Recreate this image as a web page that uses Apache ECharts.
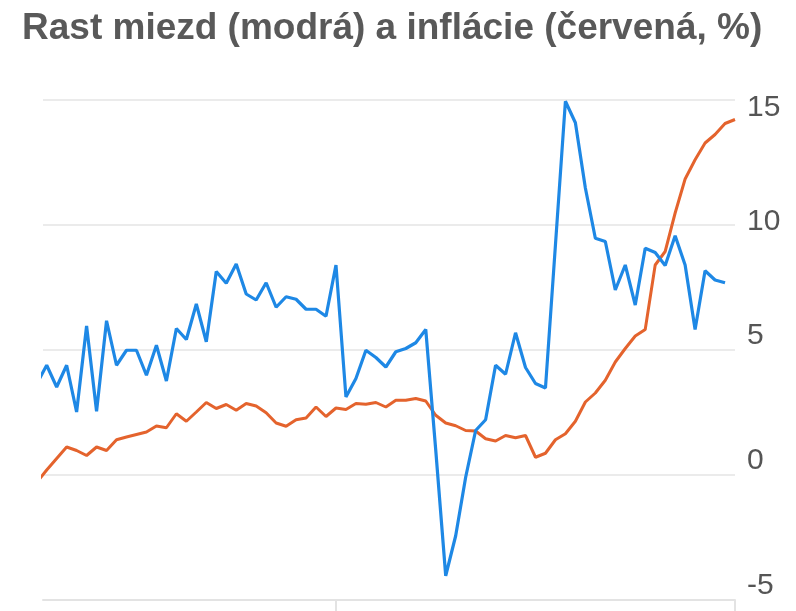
<!DOCTYPE html>
<html>
<head>
<meta charset="utf-8">
<script src="https://cdn.jsdelivr.net/npm/echarts@6/dist/echarts.min.js"></script>
<style>
  html, body { margin: 0; padding: 0; background: #fff; }
  #chart { width: 796px; height: 611px; }
</style>
</head>
<body>
<div id="chart"></div>
<script>
// mesacne hodnoty, prvy bod je uz mimo vyrezu grafu (x = -1)
var wageGrowth = [3.65, 4.39, 3.52, 4.39, 2.52, 5.96, 2.55, 6.17, 4.39, 4.99,
    4.99, 3.99, 5.19, 3.76, 5.86, 5.42, 6.84, 5.33, 8.14, 7.67,
    8.44, 7.24, 7.00, 7.69, 6.71, 7.13, 7.03, 6.63, 6.63, 6.35,
    8.40, 3.12, 3.86, 4.99, 4.70, 4.32, 4.93, 5.06, 5.29, 5.82,
    1.00, -4.03, -2.43, -0.09, 1.78, 2.21, 4.39, 4.03, 5.69, 4.30,
    3.66, 3.48, 9.20, 14.95, 14.09, 11.48, 9.47, 9.34, 7.40, 8.40,
    6.80, 9.07, 8.90, 8.38, 9.57, 8.40, 5.82, 8.17, 7.80, 7.69];
var inflation = [-0.30, 0.20, 0.66, 1.12, 0.98, 0.78, 1.12, 0.98, 1.41, 1.52,
    1.62, 1.72, 1.96, 1.89, 2.45, 2.15, 2.52, 2.90, 2.66, 2.82,
    2.59, 2.86, 2.76, 2.49, 2.08, 1.95, 2.21, 2.28, 2.72, 2.34,
    2.68, 2.62, 2.86, 2.83, 2.90, 2.72, 2.99, 2.99, 3.06, 2.96,
    2.39, 2.08, 1.97, 1.78, 1.76, 1.45, 1.36, 1.58, 1.49, 1.58,
    0.71, 0.87, 1.41, 1.65, 2.15, 2.92, 3.28, 3.79, 4.52, 5.06,
    5.56, 5.82, 8.40, 8.94, 10.48, 11.84, 12.61, 13.28, 13.62, 14.06,
    14.22];
var xTicks = [29, 69];
var yTicks = [-5, 0, 5, 10, 15];

var myChart = echarts.init(document.getElementById('chart'));

function toPoints(arr) {
    return arr.map(function (v, i) { return [i - 1, v]; });
}

var labelFont = { fontSize: 30, color: '#555', fontFamily: 'Liberation Sans' };

var option = {
    backgroundColor: '#fff',
    animation: false,
    title: {
        text: 'Rast miezd (modrá) a inflácie (červená, %)',
        left: 17,
        top: 5,
        textStyle: {
            fontFamily: 'Liberation Sans',
            fontSize: 37,
            fontWeight: 'bold',
            color: '#595959'
        }
    },
    grid: {
        left: 43,
        right: 61,
        top: 100,
        bottom: 11
    },
    xAxis: {
        type: 'value',
        min: -0.37,
        max: 69,
        splitLine: { show: false },
        axisLine: {
            onZero: false,
            lineStyle: { color: '#e3e3e3', width: 2 }
        },
        axisTick: {
            customValues: xTicks,
            length: 12,
            lineStyle: { color: '#e3e3e3', width: 2 }
        },
        axisLabel: { show: false }
    },
    yAxis: {
        type: 'value',
        position: 'right',
        min: yTicks[0],
        max: yTicks[yTicks.length - 1],
        interval: 5,
        axisLine: { show: false },
        axisTick: { show: false },
        splitLine: {
            lineStyle: { color: '#ebebeb', width: 2 }
        },
        axisLabel: {
            margin: 12,
            fontFamily: 'Liberation Sans',
            fontSize: 30,
            color: '#555',
            formatter: function (v) {
                if (v === 15) return '{t|' + v + '}';
                if (v === 10) return '{m|' + v + '}';
                return '{b|' + v + '}';
            },
            rich: {
                t: Object.assign({ padding: [16, 0, 0, 0] }, labelFont),
                m: Object.assign({ padding: [0, 0, 6, 0] }, labelFont),
                b: Object.assign({ padding: [0, 0, 28, 0] }, labelFont)
            }
        }
    },
    series: [
        {
            name: 'Rast miezd',
            type: 'line',
            data: toPoints(wageGrowth),
            showSymbol: false,
            lineStyle: { color: '#1e88e5', width: 3.2 },
            itemStyle: { color: '#1e88e5' },
            z: 3
        },
        {
            name: 'Inflácia',
            type: 'line',
            data: toPoints(inflation),
            showSymbol: false,
            lineStyle: { color: '#e4632d', width: 3 },
            itemStyle: { color: '#e4632d' },
            z: 2
        }
    ]
};

myChart.setOption(option);
</script>
</body>
</html>
